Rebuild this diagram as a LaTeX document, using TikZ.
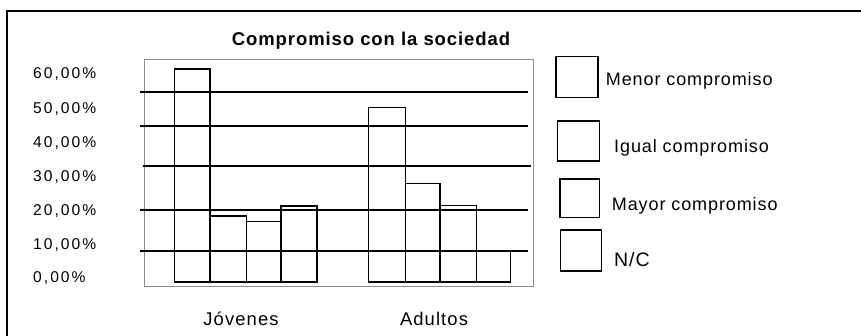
\documentclass[tikz,border=0pt]{standalone}
\usepackage{fontspec}
\setmainfont{Liberation Sans}
\newfontfamily\axisfont[LetterSpace=13]{Liberation Sans}
\newfontfamily\legendfont[LetterSpace=5]{Liberation Sans}
\newfontfamily\catfont[LetterSpace=6]{Liberation Sans}
\newfontfamily\titlefont[LetterSpace=5]{Liberation Sans}
\usepackage{tikz}
\tikzstyle{frame} = [draw=black, line width=2.4pt]
\tikzstyle{plotarea} = [draw=black!45, line width=1.5pt]
\tikzstyle{gridline} = [draw=black, line width=1.6pt]
\tikzstyle{bar} = [draw=black, line width=1.5pt, line join=miter]
\tikzstyle{legendbox} = [rectangle, draw=black, line width=1.5pt, inner sep=0pt, minimum width=41pt, minimum height=40pt]
\tikzstyle{ylabel} = [anchor=base west, inner sep=0pt, font={\axisfont\fontsize{15.6}{18}\selectfont}]
\tikzstyle{legendtext} = [anchor=base west, inner sep=0pt, font={\legendfont\fontsize{18}{20}\selectfont}]
\tikzstyle{catlabel} = [anchor=base, inner sep=0pt, font={\catfont\fontsize{18.4}{21}\selectfont}]

\begin{document}
\begin{tikzpicture}[x=1pt, y=-1pt]

    \useasboundingbox (0,0) rectangle (861,335);
    \clip (0,0) rectangle (861,335);

    \draw [frame] (7,11) rectangle (880,350);

    \node (title) [anchor=base, inner sep=0pt, font={\titlefont\bfseries\fontsize{18.5}{21}\selectfont}] at (371,45) {Compromiso con la sociedad};

    % plot area and grid
    \draw [plotarea] (144.5,59.5) rectangle (533.5,286.5);

    \draw [gridline] (140,92) -- (528,92);
    \draw [gridline] (140,126) -- (528,126);
    \draw [gridline] (143,166) -- (531,166);
    \draw [gridline] (140,210) -- (528,210);
    \draw [gridline] (140,251) -- (528,251);

    % Jovenes
    \draw [bar] (174.3,282) rectangle (210,69);
    \draw [bar] (210,282) rectangle (246.5,216);
    \draw [bar] (246.5,282) rectangle (281,221.5);
    \draw [bar] (281,282) rectangle (317,206);

    % Adultos
    \draw [bar] (368.5,282) rectangle (405.5,107.3);
    \draw [bar] (405.5,282) rectangle (440,183.7);
    \draw [bar] (440,282) rectangle (476.5,205.7);
    \draw [bar] (476.5,282) rectangle (510.5,251.7);

    \node (label_60) [ylabel] at (33,78.5) {60,00\%};
    \node (label_50) [ylabel] at (33,113) {50,00\%};
    \node (label_40) [ylabel] at (33,147) {40,00\%};
    \node (label_30) [ylabel] at (33,181) {30,00\%};
    \node (label_20) [ylabel] at (33,215) {20,00\%};
    \node (label_10) [ylabel] at (33,249) {10,00\%};
    \node (label_0) [ylabel] at (33,282.5) {0,00\%};

    \node (jovenes) [catlabel] at (241,325) {Jóvenes};
    \node (adultos) [catlabel] at (434,325) {Adultos};

    % legend
    \node (box_menor) [legendbox, minimum width=42pt, minimum height=40.6pt] at (576.9,77) {};
    \node (box_igual) [legendbox, minimum width=42pt] at (578.7,141) {};
    \node (box_mayor) [legendbox, minimum width=39.3pt, minimum height=38.3pt] at (579.7,198.2) {};
    \node (box_nc) [legendbox, minimum height=40.7pt] at (581.2,250.4) {};

    \node (text_menor) [legendtext] at (605.7,85.5) {Menor compromiso};
    \node (text_igual) [legendtext] at (614,152.3) {Igual compromiso};
    \node (text_mayor) [legendtext] at (611.7,210) {Mayor compromiso};
    \node (text_nc) [legendtext, font={\legendfont\fontsize{19.5}{22}\selectfont}] at (614,266.7) {N/C};

\end{tikzpicture}
\end{document}
